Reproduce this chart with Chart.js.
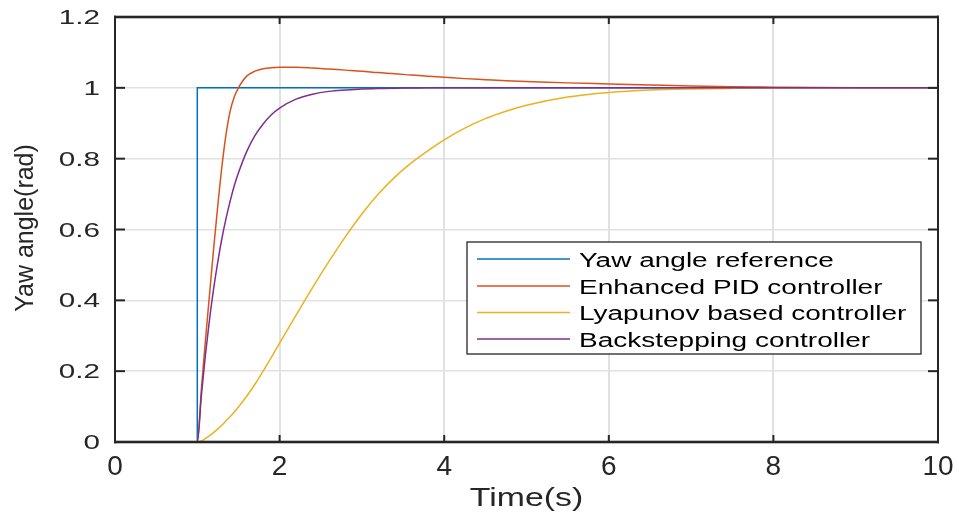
<!DOCTYPE html>
<html>
<head>
<meta charset="utf-8">
<script src="https://cdn.jsdelivr.net/npm/chart.js@4/dist/chart.umd.min.js"></script>
<style>
  html, body { margin: 0; padding: 0; background: #ffffff; }
  #wrap { width: 959px; height: 516px; }
</style>
</head>
<body>
<div id="wrap"><canvas id="c" width="959" height="516"></canvas></div>
<script>
// ---- data ----
const seriesNames = ['Yaw angle reference', 'Enhanced PID controller', 'Lyapunov based controller', 'Backstepping controller'];
const seriesColors = ['#0072BD', '#D95319', '#EDB120', '#7E2F8E'];

const refTime = [0, 1, 1, 10];
const refValues = [0, 0, 1, 1];

const timeArr = [0, 1.0, 1.05, 1.1, 1.15, 1.2, 1.25, 1.3, 1.35, 1.4, 1.45, 1.5, 1.6, 1.7, 1.8, 1.9, 2.0,
  2.2, 2.4, 2.6, 2.8, 3.0, 3.2, 3.4, 3.6, 3.8, 4.0, 4.25, 4.5, 4.75, 5.0, 5.5, 6.0, 6.5, 7.0, 7.5, 8.0, 9.0, 10.0];

const pidValues = [0, 0, 0.15, 0.29, 0.42, 0.55, 0.67, 0.78, 0.87, 0.935, 0.975, 1.0, 1.033, 1.047, 1.054, 1.057, 1.058,
  1.058, 1.056, 1.053, 1.050, 1.047, 1.043, 1.040, 1.036, 1.033, 1.030, 1.026, 1.023, 1.020, 1.018, 1.014, 1.011, 1.008, 1.005, 1.003, 1.002, 1.0005, 1.0];

const lyapunovValues = [0, 0, 0.003, 0.010, 0.018, 0.027, 0.037, 0.048, 0.060, 0.072, 0.085, 0.099, 0.129, 0.163, 0.200, 0.239, 0.279,
  0.358, 0.436, 0.510, 0.580, 0.644, 0.700, 0.748, 0.788, 0.822, 0.853, 0.886, 0.913, 0.934, 0.951, 0.974, 0.987, 0.994, 0.997, 0.9985, 0.9993, 1.0, 1.0];

const backsteppingValues = [0, 0, 0.133, 0.249, 0.349, 0.435, 0.510, 0.576, 0.632, 0.681, 0.724, 0.760, 0.820, 0.865, 0.898, 0.924, 0.943,
  0.968, 0.982, 0.990, 0.994, 0.997, 0.998, 0.999, 0.9994, 1.0, 1.0, 1.0, 1.0, 1.0, 1.0, 1.0, 1.0, 1.0, 1.0, 1.0, 1.0, 1.0, 1.0];

const xTickValues = [0, 2, 4, 6, 8, 10];
const yTickLabels = ['0', '0.2', '0.4', '0.6', '0.8', '1', '1.2'];
const xTitle = 'Time(s)';
const yTitle = 'Yaw angle(rad)';

// ---- chart ----
const toPts = (xs, ys) => xs.map((x, i) => ({ x: x, y: ys[i] }));
const FONT = '"Liberation Sans", Arial, Helvetica, sans-serif';
const AXIS_COLOR = '#262626';

const datasets = [
  { label: seriesNames[0], data: toPts(refTime, refValues), borderColor: seriesColors[0], order: 4, tension: 0 },
  { label: seriesNames[1], data: toPts(timeArr, pidValues), borderColor: seriesColors[1], order: 3, cubicInterpolationMode: 'monotone' },
  { label: seriesNames[2], data: toPts(timeArr, lyapunovValues), borderColor: seriesColors[2], order: 2, cubicInterpolationMode: 'monotone' },
  { label: seriesNames[3], data: toPts(timeArr, backsteppingValues), borderColor: seriesColors[3], order: 1, cubicInterpolationMode: 'monotone' }
].map(d => Object.assign({ showLine: true, pointRadius: 0, borderWidth: 1.5, fill: false }, d));

const matlabDecor = {
  id: 'matlabDecor',
  afterDatasetsDraw(chart) {
    const ctx = chart.ctx;
    const a = chart.chartArea;
    const xs = chart.scales.x, ys = chart.scales.y;
    ctx.save();
    ctx.fillStyle = AXIS_COLOR;
    // frame
    ctx.fillRect(a.left - 1, a.top - 1.3, a.right - a.left + 2, 2.6);
    ctx.fillRect(a.left - 1, a.bottom - 1.3, a.right - a.left + 2, 2.6);
    ctx.fillRect(a.left - 1, a.top - 1.3, 2, a.bottom - a.top + 2.6);
    ctx.fillRect(a.right - 1, a.top - 1.3, 2, a.bottom - a.top + 2.6);
    // inward tick marks
    xs.ticks.forEach(t => {
      const px = xs.getPixelForValue(t.value);
      ctx.fillRect(px - 1, a.bottom - 7, 2, 7);
      ctx.fillRect(px - 1, a.top, 2, 7);
    });
    ys.ticks.forEach(t => {
      const py = ys.getPixelForValue(t.value);
      ctx.fillRect(a.left, py - 1, 10, 2);
      ctx.fillRect(a.right - 10, py - 1, 10, 2);
    });
    // legend box
    const bx = 467, by = 242, bw = 454, bh = 112;
    ctx.fillStyle = '#ffffff';
    ctx.fillRect(bx, by, bw, bh);
    ctx.strokeStyle = AXIS_COLOR;
    ctx.lineWidth = 1.3;
    ctx.strokeRect(bx, by, bw, bh);
    const rowLineY = [259, 286, 312.5, 339];
    chart.data.datasets.forEach((ds, i) => {
      ctx.strokeStyle = ds.borderColor;
      ctx.lineWidth = 1.4;
      ctx.beginPath();
      ctx.moveTo(477, rowLineY[i]);
      ctx.lineTo(570, rowLineY[i]);
      ctx.stroke();
      ctx.save();
      ctx.fillStyle = '#000000';
      ctx.font = '20px ' + FONT;
      ctx.textAlign = 'left';
      ctx.textBaseline = 'alphabetic';
      ctx.translate(579, rowLineY[i] + 7.5);
      ctx.scale(1.4, 1);
      ctx.fillText(ds.label, 0, 0);
      ctx.restore();
    });
    ctx.restore();
  },
  afterDraw(chart) {
    const ctx = chart.ctx;
    const a = chart.chartArea;
    const ys = chart.scales.y;
    ctx.save();
    ctx.fillStyle = AXIS_COLOR;
    // y tick labels (positions from the library's scale)
    ys.ticks.forEach((t, i) => {
      const py = ys.getPixelForValue(t.value);
      ctx.save();
      ctx.font = '20px ' + FONT;
      ctx.textAlign = 'right';
      ctx.textBaseline = 'alphabetic';
      ctx.translate(100, py + 7);
      ctx.scale(1.48, 1);
      ctx.fillText(yTickLabels[i] !== undefined ? yTickLabels[i] : String(t.value), 0, 0);
      ctx.restore();
    });
    // x title
    ctx.save();
    ctx.font = '26px ' + FONT;
    ctx.textAlign = 'center';
    ctx.textBaseline = 'alphabetic';
    ctx.translate((a.left + a.right) / 2, 506);
    ctx.scale(1.3, 1);
    ctx.fillText(xTitle, 0, 0);
    ctx.restore();
    // y title
    ctx.save();
    ctx.font = '25px ' + FONT;
    ctx.textAlign = 'center';
    ctx.textBaseline = 'alphabetic';
    ctx.translate(33, 228);
    ctx.rotate(-Math.PI / 2);
    ctx.fillText(yTitle, 0, 0);
    ctx.restore();
    ctx.restore();
  }
};

new Chart(document.getElementById('c'), {
  type: 'scatter',
  data: { datasets: datasets },
  options: {
    responsive: false,
    animation: false,
    devicePixelRatio: 1,
    layout: { padding: { top: 17, right: 21, left: 0, bottom: 0 } },
    plugins: { legend: { display: false }, tooltip: { enabled: false } },
    scales: {
      x: {
        type: 'linear', min: 0, max: 10,
        afterBuildTicks: s => { s.ticks = xTickValues.map(v => ({ value: v })); },
        afterFit: s => { s.height = 74; s.paddingLeft = 0; s.paddingRight = 0; },
        ticks: { font: { family: FONT, size: 28 }, color: AXIS_COLOR, padding: 8, maxRotation: 0 },
        grid: { color: '#e1e1e1', lineWidth: 2, drawTicks: false },
        border: { display: false }
      },
      y: {
        type: 'linear', min: 0, max: 1.2,
        ticks: { stepSize: 0.2, display: false },
        afterFit: s => { s.width = 115; s.paddingTop = 0; s.paddingBottom = 0; },
        grid: { color: '#e1e1e1', lineWidth: 1.5, drawTicks: false },
        border: { display: false }
      }
    }
  },
  plugins: [matlabDecor]
});
</script>
</body>
</html>
